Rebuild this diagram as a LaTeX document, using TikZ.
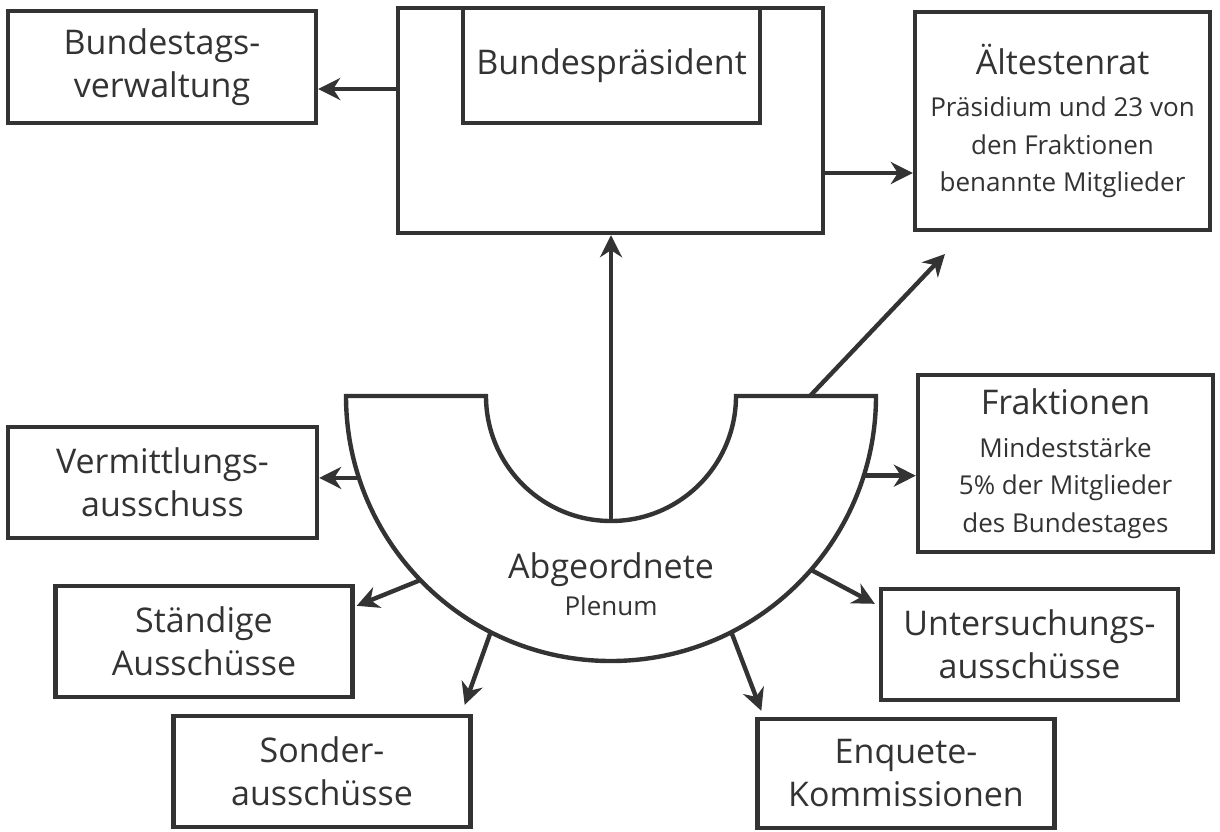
\documentclass[tikz,border=0pt]{standalone}
\usepackage{fontspec}
\setmainfont{Open Sans}
\usepackage{xcolor}
\usepackage{tikz}
\usetikzlibrary{arrows.meta,positioning,calc}
\definecolor{ink}{HTML}{333333}
\newcommand{\bigtxt}{\fontsize{17}{21.5}\selectfont}
\newcommand{\smalltxt}{\fontsize{13}{18.75}\selectfont}

\begin{document}
\begin{tikzpicture}[x=0.5pt,y=-0.5pt,
  box/.style={draw=ink,line width=2.2pt,fill=white,inner sep=0pt,align=center,text=ink,font=\bigtxt},
  unit/.style={box,minimum width=148.5pt,minimum height=55.5pt},
  infobox/.style={box,font=\smalltxt},
  conn/.style={draw=ink,line width=2.2pt,-{Stealth[length=11pt,width=11pt,inset=3.5pt]}}]
\useasboundingbox (0,0) rectangle (1220,831);
% Leitung
\node[box,minimum width=212.5pt,minimum height=112.5pt] (praes) at (610.5,120.5) {};
\node[box,minimum width=148.5pt,minimum height=57.5pt] (bpraes) at (611.5,65.5) {Bundespräsident};
\node[box,minimum width=154pt,minimum height=56pt] (verw) at (162,67) {Bundestags-\\verwaltung};
\node[infobox,minimum width=147.5pt,minimum height=109pt] (aelt) at (1062.5,121)
  {\bigtxt Ältestenrat\\[2.5pt]Präsidium und 23 von\\den Fraktionen\\benannte Mitglieder};
\node[infobox,minimum width=147.5pt,minimum height=88.5pt] (frak) at (1065.5,463.5)
  {\bigtxt Fraktionen\\[2.5pt]Mindeststärke\\5\% der Mitglieder\\des Bundestages};
% Ausschuesse
\node[unit,minimum width=154.5pt] (verm) at (162.5,482.5) {Vermittlungs-\\ausschuss};
\node[unit] (staend) at (204,641.5) {Ständige\\Ausschüsse};
\node[unit] (sonder) at (322,771.5) {Sonder-\\ausschüsse};
\node[unit] (unters) at (1029.5,644.5) {Untersuchungs-\\ausschüsse};
\node[unit,minimum height=54.5pt] (enq) at (906,773.5) {Enquete-\\Kommissionen};
% Plenum
\coordinate (pc) at (611,396);
\draw[ink,line width=2.2pt,fill=white,line join=miter]
  (346,396) -- (486,396) arc[start angle=180,end angle=0,radius=125]
  -- (876,396) arc[start angle=0,end angle=180,radius=265] -- cycle;
\node[text=ink,align=center,font=\smalltxt] (plen) at (611,584) {\bigtxt Abgeordnete\\Plenum};
\coordinate (inb) at ($(pc)+(90:125)$);
\coordinate (pv) at ($(pc)+(162:265)$);
\coordinate (ps) at ($(pc)+(136:265)$);
\coordinate (pso) at ($(pc)+(117:265)$);
\coordinate (pe) at ($(pc)+(63:265)$);
\coordinate (pu) at ($(pc)+(41:265)$);
\coordinate (pf) at ($(pc)+(17.5:265)$);
\coordinate (dstart) at (810,396);
\coordinate (dend) at (945,254);
% Pfeile
\draw[conn] ([yshift=15.75pt]praes.west) -- ([yshift=15.75pt]praes.west -| verw.east);
\draw[conn] ([yshift=-26.25pt]praes.east) -- ([yshift=-26.25pt]praes.east -| aelt.west);
\draw[conn] (inb) -- (inb |- praes.south);
\draw[conn] (dstart) -- (dend);
\draw[conn] (pf) -- (pf -| frak.west);
\draw[conn] (pv) -- (pv -| verm.east);
\draw[conn] (ps) -- ([shift={(2,22)}]staend.north east);
\draw[conn] (pso) -- ([shift={(-8,-9)}]sonder.north east);
\draw[conn] (pu) -- ([shift={(-4,17)}]unters.north west);
\draw[conn] (pe) -- ([shift={(6,-6)}]enq.north west);
\end{tikzpicture}
\end{document}
